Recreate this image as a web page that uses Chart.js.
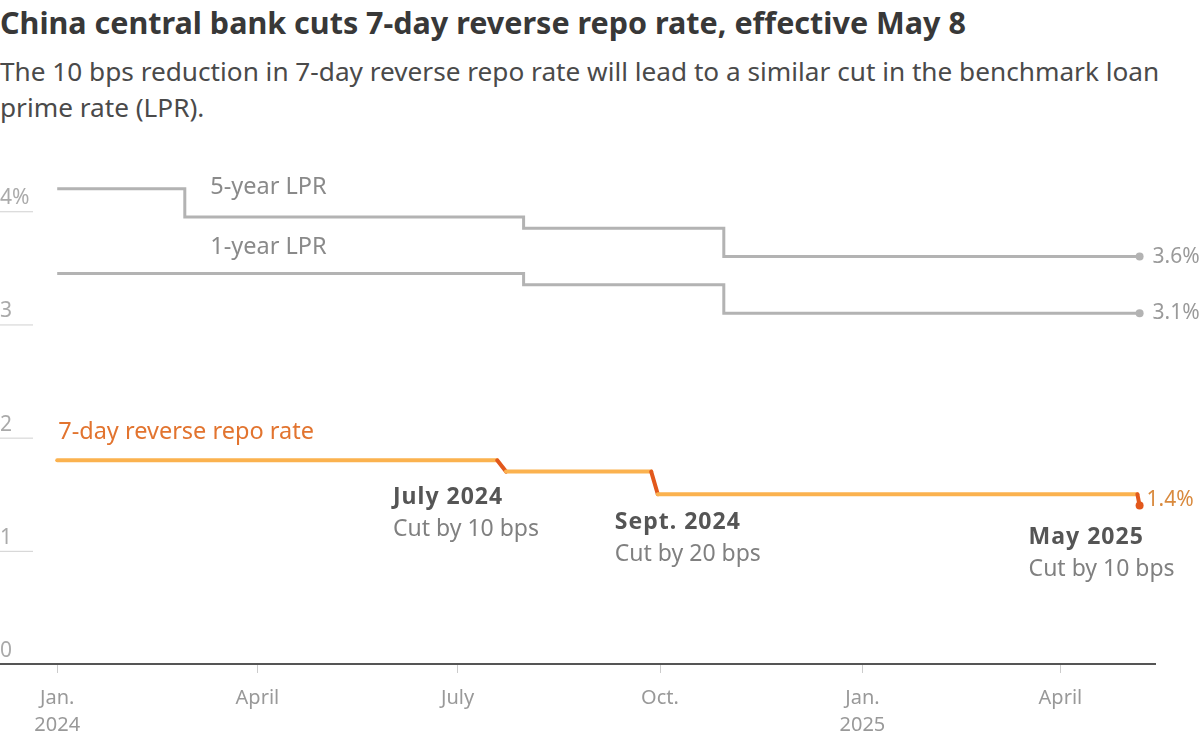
<!DOCTYPE html>
<html lang="en">
<head>
  <meta charset="UTF-8">
  <title>China central bank cuts 7-day reverse repo rate</title>
  <style>
    body {
      margin: 0;
      background: #fff;
      font-family: 'Noto Sans', sans-serif;
      width: 1200px;
      height: 743px;
      overflow: hidden;
      position: relative;
    }
    h1 {
      position: absolute;
      left: 0;
      top: 3px;
      margin: 0;
      font-size: 30.5px;
      font-weight: bold;
      color: #383838;
      line-height: 38px;
      white-space: nowrap;
    }
    .sub {
      position: absolute;
      left: 0;
      top: 53px;
      width: 1185px;
      margin: 0;
      font-size: 26.2px;
      line-height: 36px;
      color: #4a4a4a;
    }
    .wrap {
      position: absolute;
      left: 0;
      top: 140px;
      width: 1200px;
      height: 603px;
    }
  </style>
  <script src="https://cdn.jsdelivr.net/npm/chart.js"></script>
</head>
<body>
  <h1>China central bank cuts 7-day reverse repo rate, effective May 8</h1>
  <p class="sub">The 10 bps reduction in 7-day reverse repo rate will lead to a similar cut in the benchmark loan prime rate (LPR).</p>
  <div class="wrap"><canvas id="rateChart" width="1200" height="603"></canvas></div>

  <script>
    // data
    const lpr5Dates = ['2024-01-01', '2024-02-28', '2024-07-31', '2024-10-30', '2025-05-07'];
    const lpr5Values = [4.2, 3.95, 3.85, 3.6, 3.6];

    const lpr1Dates = ['2024-01-01', '2024-07-31', '2024-10-30', '2025-05-07'];
    const lpr1Values = [3.45, 3.35, 3.1, 3.1];

    const repoDates = ['2024-01-01', '2024-07-19', '2024-07-23', '2024-09-27', '2024-09-30', '2025-05-06', '2025-05-07'];
    const repoValues = [1.8, 1.8, 1.7, 1.7, 1.5, 1.5, 1.4];

    const seriesNames = ['5-year LPR', '1-year LPR', '7-day reverse repo rate'];
    const endLabels = ['3.6%', '3.1%', '1.4%'];

    const yTicks = [0, 1, 2, 3, 4];
    const yTickLabels = ['0', '1', '2', '3', '4%'];

    const xTickDates = ['2024-01-01', '2024-04-01', '2024-07-01', '2024-10-01', '2025-01-01', '2025-04-01'];
    const xTickLabels = [['Jan.', '2024'], ['April'], ['July'], ['Oct.'], ['Jan.', '2025'], ['April']];

    const cutDates = ['2024-07-23', '2024-09-30', '2025-05-07'];
    const cutTitles = ['July 2024', 'Sept. 2024', 'May 2025'];
    const cutNotes = ['Cut by 10 bps', 'Cut by 20 bps', 'Cut by 10 bps'];

    // days since Jan 1 2024 (no date adapter available)
    const base = Date.UTC(2024, 0, 1);
    const toDay = s => {
      const [y, m, d] = s.split('-').map(Number);
      return (Date.UTC(y, m - 1, d) - base) / 86400000;
    };
    const pts = (dates, vals) => dates.map((d, i) => ({ x: toDay(d), y: vals[i] }));

    const grey = '#b3b3b3';
    const orange = '#fbb24f';
    const darkOrange = '#e2581c';
    const font = "'Noto Sans', sans-serif";

    const lastOnly = n => Array.from({ length: n }, (_, i) => (i === n - 1 ? 4 : 0));

    const labelsPlugin = {
      id: 'labels',
      afterDatasetsDraw(chart) {
        const ctx = chart.ctx;
        const x = chart.scales.x;
        const y = chart.scales.y;
        ctx.save();

        // y labels sitting on short rules
        ctx.font = '21px ' + font;
        ctx.fillStyle = '#aaa';
        ctx.textBaseline = 'alphabetic';
        ctx.textAlign = 'left';
        yTicks.forEach((v, i) => {
          const py = y.getPixelForValue(v);
          ctx.fillText(yTickLabels[i], 0, py - 7);
          if (v > 0) {
            ctx.strokeStyle = '#d0d0d0';
            ctx.lineWidth = 1;
            ctx.beginPath();
            ctx.moveTo(0, py + 0.5);
            ctx.lineTo(33, py + 0.5);
            ctx.stroke();
          }
        });

        // series names
        ctx.font = '23.5px ' + font;
        ctx.textBaseline = 'middle';
        ctx.fillStyle = '#8a8a8a';
        ctx.fillText(seriesNames[0], x.getPixelForValue(toDay(lpr5Dates[0])) + 153, y.getPixelForValue(lpr5Values[0]) - 1);
        ctx.fillText(seriesNames[1], x.getPixelForValue(toDay(lpr1Dates[0])) + 153, y.getPixelForValue(lpr1Values[0]) - 26);
        ctx.fillStyle = '#e2742f';
        ctx.fillText(seriesNames[2], x.getPixelForValue(toDay(repoDates[0])) + 1, y.getPixelForValue(repoValues[0]) - 28);

        // end values
        const ends = [[lpr5Dates, lpr5Values, '#9a9a9a'], [lpr1Dates, lpr1Values, '#9a9a9a'], [repoDates, repoValues, '#d98a3e']];
        ctx.font = '21px ' + font;
        ends.forEach(([d, v, c], i) => {
          ctx.fillStyle = c;
          const px = x.getPixelForValue(toDay(d[d.length - 1]));
          const py = y.getPixelForValue(v[v.length - 1]);
          ctx.fillText(endLabels[i], px + (i === 2 ? 7 : 13), py - (i === 2 ? 6 : 0));
        });

        // cut annotations
        const offs = [[-113, 26], [-43, 28], [-111, 32]];
        cutDates.forEach((d, i) => {
          const idx = repoDates.indexOf(d);
          const px = x.getPixelForValue(toDay(d)) + offs[i][0];
          const py = y.getPixelForValue(repoValues[idx]) + offs[i][1];
          ctx.font = 'bold 23px ' + font;
          ctx.letterSpacing = '1px';
          ctx.fillStyle = '#555';
          ctx.fillText(cutTitles[i], px, py);
          ctx.letterSpacing = '0px';
          ctx.font = '23px ' + font;
          ctx.fillStyle = '#808080';
          ctx.fillText(cutNotes[i], px, py + 32);
        });
        ctx.restore();
      }
    };

    const xTickValues = xTickDates.map(toDay);

    new Chart(document.getElementById('rateChart'), {
      type: 'line',
      data: {
        datasets: [
          {
            label: seriesNames[0],
            data: pts(lpr5Dates, lpr5Values),
            stepped: true,
            borderColor: grey,
            borderWidth: 3,
            pointRadius: lastOnly(lpr5Dates.length),
            pointBackgroundColor: grey,
            pointBorderWidth: 0
          },
          {
            label: seriesNames[1],
            data: pts(lpr1Dates, lpr1Values),
            stepped: true,
            borderColor: grey,
            borderWidth: 3,
            pointRadius: lastOnly(lpr1Dates.length),
            pointBackgroundColor: grey,
            pointBorderWidth: 0
          },
          {
            label: seriesNames[2],
            data: pts(repoDates, repoValues),
            borderColor: orange,
            borderWidth: 4,
            borderCapStyle: 'round',
            segment: {
              borderColor: c => (c.p0.parsed.y !== c.p1.parsed.y ? darkOrange : orange)
            },
            pointRadius: lastOnly(repoDates.length),
            pointBackgroundColor: darkOrange,
            pointBorderWidth: 0
          }
        ]
      },
      options: {
        responsive: false,
        animation: false,
        layout: { autoPadding: false, padding: { top: 26, left: 0, right: 45, bottom: 0 } },
        scales: {
          x: {
            type: 'linear',
            min: -26,
            max: 499,
            afterBuildTicks: s => { s.ticks = xTickValues.map(v => ({ value: v })); },
            afterFit: s => { s.height = 79; },
            ticks: {
              color: '#999',
              font: { family: font, size: 20, lineHeight: 1.35 },
              padding: 12,
              maxRotation: 0,
              autoSkip: false,
              callback: (v, i) => xTickLabels[i]
            },
            grid: { drawOnChartArea: false, tickLength: 9, color: '#ccc' },
            border: { color: '#555', width: 2 }
          },
          y: {
            display: false,
            min: 0,
            max: 4.4
          }
        },
        plugins: {
          legend: { display: false },
          tooltip: { enabled: false }
        }
      },
      plugins: [labelsPlugin]
    });
  </script>
</body>
</html>
